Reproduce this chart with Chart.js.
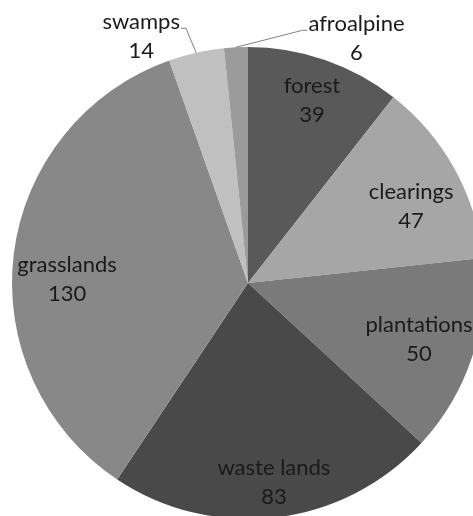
<!DOCTYPE html>
<html>
<head>
<meta charset="utf-8">
<script src="https://cdn.jsdelivr.net/npm/chart.js@4"></script>
<style>
  html, body { margin: 0; padding: 0; background: #ffffff; overflow: hidden; width: 473px; height: 516px; }
  canvas { display: block; }
</style>
</head>
<body>
<canvas id="pie" width="500" height="535"></canvas>
<script>
// Land cover areas, clockwise from 12 o'clock
const categories = ['forest', 'clearings', 'plantations', 'waste lands', 'grasslands', 'swamps', 'afroalpine'];
const areaValues = [39, 47, 50, 83, 130, 14, 6];
const sliceColors = ['#595959', '#a6a6a6', '#7a7a7a', '#494949', '#888888', '#c0c0c0', '#9b9b9b'];

// Inside labels: position along the slice's sweep (0..1) and along the radius (0..1)
const labelSweep = [0.507, 0.586, 0.5, 0.493, 0.453, null, null];
const labelRadius = [0.82, 0.763, 0.763, 0.853, 0.767, null, null];
// Outside labels: text centre offset from the rim point of the slice, with a leader line
const calloutOffset = { 5: [-55, -16.5], 6: [120.5, -9] };

const FONT = '22px Lato, "Open Sans", sans-serif';
const LINE_GAP = 29;

const pieLabels = {
  id: 'pieLabels',
  afterDatasetsDraw(chart) {
    const ctx = chart.ctx;
    const meta = chart.getDatasetMeta(0);
    ctx.save();
    ctx.font = FONT;
    ctx.fillStyle = '#1a1a1a';
    ctx.textAlign = 'center';
    ctx.textBaseline = 'alphabetic';
    meta.data.forEach((arc, i) => {
      const p = arc.getProps(['x', 'y', 'startAngle', 'endAngle', 'outerRadius'], true);
      const lines = [categories[i], String(areaValues[i])];
      let cx, cy;
      if (labelSweep[i] !== null) {
        const a = p.startAngle + (p.endAngle - p.startAngle) * labelSweep[i];
        const r = p.outerRadius * labelRadius[i];
        cx = p.x + r * Math.cos(a);
        cy = p.y + r * Math.sin(a);
      } else {
        const a = (p.startAngle + p.endAngle) / 2;
        const rx = p.x + p.outerRadius * Math.cos(a);
        const ry = p.y + p.outerRadius * Math.sin(a);
        const off = calloutOffset[i];
        cx = rx + off[0];
        cy = ry + off[1];
        const w = ctx.measureText(lines[0]).width;
        const side = off[0] < 0 ? 1 : -1;
        const edgeX = cx + side * (w / 2 + 1);
        const elbowX = edgeX + side * 5;
        const lineY = cy - 8;
        ctx.beginPath();
        ctx.strokeStyle = '#7f7f7f';
        ctx.lineWidth = 1;
        ctx.moveTo(rx, ry);
        ctx.lineTo(elbowX, lineY);
        ctx.lineTo(edgeX, lineY);
        ctx.stroke();
      }
      // cx, cy is the centre of the two-line block
      ctx.fillText(lines[0], cx, cy - LINE_GAP / 2 + 7);
      ctx.fillText(lines[1], cx, cy + LINE_GAP / 2 + 7);
    });
    ctx.restore();
  }
};

new Chart(document.getElementById('pie'), {
  type: 'pie',
  data: {
    labels: categories,
    datasets: [{
      data: areaValues,
      backgroundColor: sliceColors,
      borderWidth: 0
    }]
  },
  options: {
    responsive: false,
    animation: false,
    layout: { padding: { left: 12, top: 47, right: 16, bottom: 16 } },
    plugins: {
      legend: { display: false },
      tooltip: { enabled: false }
    }
  },
  plugins: [pieLabels]
});
</script>
</body>
</html>
